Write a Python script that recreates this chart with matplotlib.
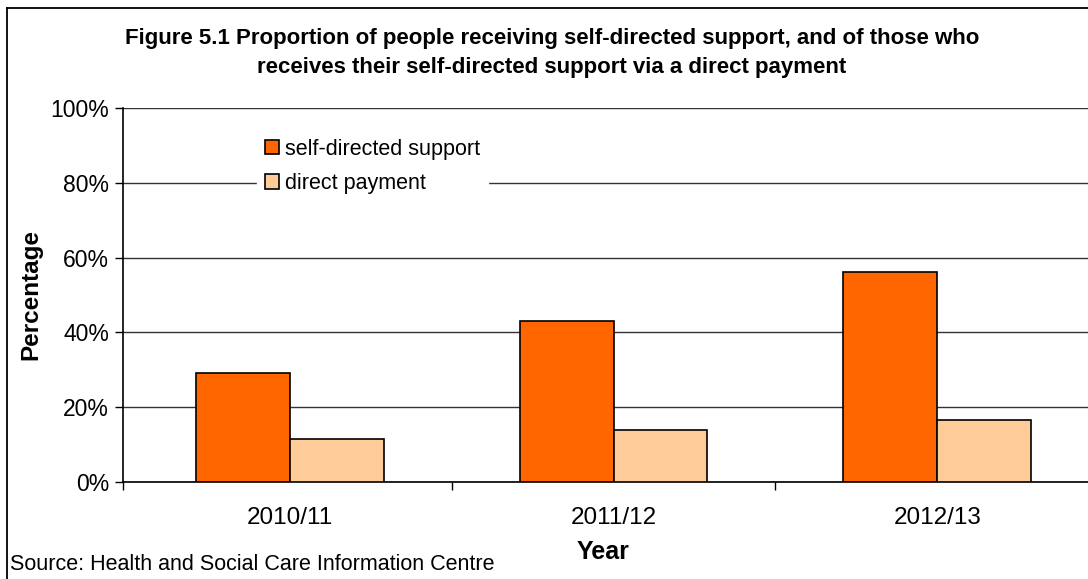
import matplotlib
matplotlib.use("Agg")
from matplotlib import pyplot as plt
from matplotlib.ticker import FixedLocator, PercentFormatter
import numpy as np

plt.rcParams['font.family'] = ['Liberation Sans', 'DejaVu Sans']

years = ["2010/11", "2011/12", "2012/13"]
self_directed = [29.2, 43.1, 56.1]
direct_payment = [11.6, 13.8, 16.5]

W, H = 1088, 579
fig = plt.figure(figsize=(W / 100, H / 100), dpi=100)

# outer frame, only top and left visible in the crop
fig.add_artist(plt.Line2D([7 / W, 7 / W], [0, 1 - 8 / H], color="black", lw=1.3))
fig.add_artist(plt.Line2D([7 / W, 1], [1 - 8 / H, 1 - 8 / H], color="black", lw=1.3))

left, right, bottom, top = 123, 1099, 482, 108
ax = fig.add_axes([left / W, 1 - bottom / H, (right - left) / W, (bottom - top) / H])

x = np.arange(len(years))
w = 0.29
ax.bar(x - w / 2, self_directed, w, color="#FF6600", edgecolor="black", lw=1.2,
       label="self-directed support", zorder=3)
ax.bar(x + w / 2, direct_payment, w, color="#FFCC99", edgecolor="black", lw=1.2,
       label="direct payment", zorder=3)

ax.set_xlim(-0.516, 2.5)
ax.set_ylim(0, 100)
ax.set_yticks(range(0, 101, 20))
ax.yaxis.set_major_formatter(PercentFormatter(decimals=0))
ax.set_xticks(x)
ax.set_xticklabels(years)
ax.xaxis.set_minor_locator(FixedLocator([-0.516, 0.5, 1.5]))
ax.tick_params(axis="x", which="major", length=0, pad=18, labelsize=17.5)
ax.tick_params(axis="x", which="minor", length=6, width=1, direction="out")
ax.tick_params(axis="y", length=6, width=1, direction="out", pad=4, labelsize=16.5)

ax.grid(axis="y", color="#333333", lw=1, zorder=0)
for s in ["top", "right"]:
    ax.spines[s].set_visible(False)
ax.spines["left"].set_linewidth(1.2)
ax.spines["bottom"].set_linewidth(1.2)

ax.set_ylabel("Percentage", fontsize=17.5, fontweight="bold", labelpad=6)
ax.set_xlabel("Year", fontsize=18, fontweight="bold", labelpad=8)
ax.xaxis.label.set_position((((603 - left) / (right - left)), 0))

leg = ax.legend(loc="upper left", bbox_to_anchor=((257 - left) / (right - left), 1 - (131 - top) / (bottom - top)),
                frameon=True, fontsize=15.5, handlelength=0.65, handleheight=0.65,
                handletextpad=0.3, borderpad=0.35, labelspacing=0.62, borderaxespad=0)
leg.get_frame().set_edgecolor("white")
leg.get_frame().set_facecolor("white")
leg.get_frame().set_alpha(1)
leg.set_zorder(5)

fig.text(552 / W, 1 - 53 / H,
         "Figure 5.1 Proportion of people receiving self-directed support, and of those who\n"
         "receives their self-directed support via a direct payment",
         ha="center", va="center", fontsize=16, fontweight="bold", linespacing=1.55)
fig.text(10 / W, 1 - 565 / H, "Source: Health and Social Care Information Centre",
         ha="left", va="center", fontsize=15.5)

fig.savefig("out.png", dpi=100)
